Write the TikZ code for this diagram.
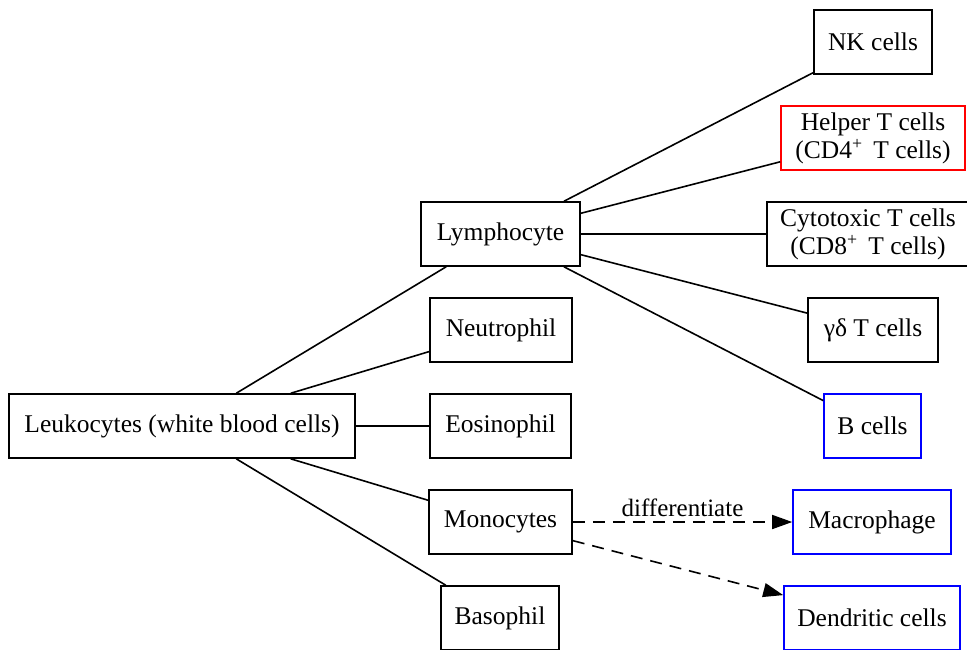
\documentclass[tikz,border=0pt]{standalone}
\usepackage{fontspec}
\setmainfont{Liberation Serif}
\usetikzlibrary{arrows.meta}
\definecolor{gvblue}{RGB}{0,0,255}
\definecolor{gvred}{RGB}{255,0,0}
\tikzset{
  box/.style={draw, line width=1.6pt, rectangle, inner sep=0pt, minimum height=64pt, align=center, font=\fontsize{25.5}{28}\selectfont},
  link/.style={line width=1.6pt},
  dlink/.style={line width=1.6pt, dash pattern=on 12pt off 8pt, -{Triangle[length=20pt,width=14pt]}},
}
\begin{document}
\begin{tikzpicture}[x=1pt,y=-1pt]
\useasboundingbox[fill=white] (0,0) rectangle (967,649);
\node[box, minimum width=346pt] (leu) at (182,426) {Leukocytes (white blood cells)};
\node[box, minimum width=159pt] (lym) at (500.5,234) {Lymphocyte};
\node[box, minimum width=142pt] (neu) at (501,330) {Neutrophil};
\node[box, minimum width=141pt] (eos) at (500.5,426) {Eosinophil};
\node[box, minimum width=143pt] (mon) at (500.5,522) {Monocytes};
\node[box, minimum width=118pt] (bas) at (500,618) {Basophil};
\node[box, minimum width=118pt] (nk) at (873,42) {NK cells};
\node[box, draw=gvred, minimum width=184pt] (hel) at (873,138) {Helper T cells\\(CD4\textsuperscript{+}\, T cells)};
\node[box, minimum width=202pt] (cyt) at (868,234) {Cytotoxic T cells\\(CD8\textsuperscript{+}\, T cells)};
\node[box, minimum width=130pt] (gd) at (873,330) {γδ T cells};
\node[box, draw=gvblue, minimum width=97pt] (bc) at (872.5,426) {B cells};
\node[box, draw=gvblue, minimum width=158pt] (mac) at (872,522) {Macrophage};
\node[box, draw=gvblue, minimum width=176pt] (den) at (872,618) {Dendritic cells};
\draw[link] (leu) -- (lym);
\draw[link] (leu) -- (neu);
\draw[link] (leu) -- (eos);
\draw[link] (leu) -- (mon);
\draw[link] (leu) -- (bas);
\draw[link] (lym) -- (nk);
\draw[link] (lym) -- (hel);
\draw[link] (lym) -- (cyt.west |- lym);
\draw[link] (lym) -- (gd);
\draw[link] (lym) -- (bc);
\draw[dlink] (mon) -- node[above=1pt, font=\fontsize{25}{27}\selectfont] (lab) {differentiate} (mac);
\draw[dlink] (mon) -- (den);
\end{tikzpicture}
\end{document}
